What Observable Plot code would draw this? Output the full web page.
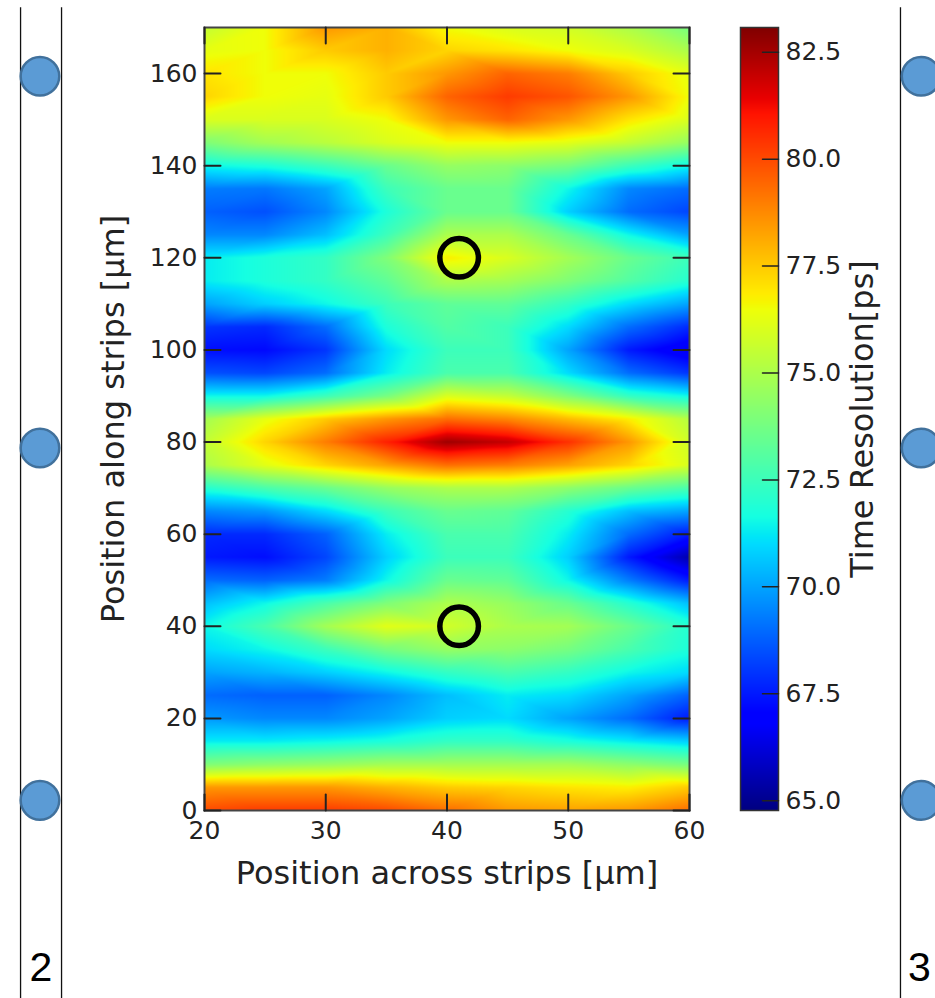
<!DOCTYPE html>
<html><head><meta charset="utf-8">
<script src="https://cdn.jsdelivr.net/npm/d3@7"></script>
<script src="https://cdn.jsdelivr.net/npm/@observablehq/plot@0.6"></script>
<style>
html,body{margin:0;padding:0;background:#fff;}
#wrap{position:relative;width:935px;height:998px;overflow:hidden;background:#fff;}
#wrap > svg{position:absolute;left:0;top:0;}
</style></head><body><div id="wrap"></div>
<script>
// Grid positions (µm)
const xPositions = [20, 25, 30, 35, 40, 45, 50, 55, 60];
const yPositions = [0,5,10,15,20,25,30,35,40,45,50,55,60,65,70,75,80,85,90,95,100,105,110,115,120,125,130,135,140,145,150,155,160,165,170];
// Time resolution [ps], one row per yPositions entry, columns = xPositions
const resolution = [
  [80.0, 80.3, 80.3, 80.0, 79.3, 78.5, 78.3, 78.5, 79.3], // 0
  [78.5, 78.5, 78.5, 78.0, 77.5, 77.3, 77.0, 76.8, 77.5], // 5
  [74.0, 74.3, 74.5, 74.8, 74.8, 74.8, 74.8, 74.3, 73.8], // 10
  [71.3, 71.3, 71.5, 71.8, 72.3, 72.3, 71.8, 71.3, 70.8], // 15
  [69.8, 69.5, 69.5, 70.0, 70.8, 71.0, 70.0, 69.0, 67.5], // 20
  [69.0, 68.8, 68.8, 69.5, 70.5, 71.3, 71.0, 70.0, 68.8], // 25
  [70.0, 70.3, 70.8, 71.5, 72.3, 72.8, 72.3, 71.5, 71.0], // 30
  [71.0, 71.5, 72.5, 73.8, 74.5, 74.3, 73.8, 72.8, 71.8], // 35
  [71.5, 72.8, 74.8, 76.2, 75.8, 75.0, 74.8, 73.5, 72.0], // 40
  [70.5, 71.5, 72.8, 74.0, 75.0, 74.5, 73.5, 72.0, 70.5], // 45
  [69.0, 68.8, 69.3, 71.5, 73.5, 73.3, 71.5, 69.3, 67.5], // 50
  [67.5, 67.3, 68.3, 70.8, 72.5, 72.5, 70.8, 67.5, 65.5], // 55
  [67.8, 67.8, 68.8, 71.3, 72.8, 72.8, 71.3, 69.0, 67.5], // 60
  [69.5, 69.8, 71.0, 72.5, 73.5, 73.3, 72.0, 70.5, 70.0], // 65
  [72.0, 72.8, 73.5, 74.5, 75.0, 75.0, 74.3, 73.5, 72.8], // 70
  [75.0, 76.2, 77.3, 78.3, 79.3, 79.0, 78.3, 77.3, 76.0], // 75
  [75.5, 77.3, 79.0, 80.8, 82.6, 82.0, 80.5, 78.5, 75.8], // 80
  [74.8, 76.3, 77.5, 78.5, 79.3, 78.8, 77.8, 76.8, 75.2], // 85
  [71.5, 71.5, 72.5, 73.8, 76.0, 75.5, 74.0, 72.3, 71.5], // 90
  [68.5, 68.3, 69.0, 71.3, 72.8, 72.8, 71.0, 69.0, 68.0], // 95
  [67.3, 67.2, 68.0, 71.0, 72.5, 72.5, 70.0, 67.5, 66.5], // 100
  [68.0, 67.8, 69.0, 71.8, 73.0, 72.5, 71.0, 69.0, 67.8], // 105
  [70.0, 70.8, 71.5, 72.5, 73.3, 73.3, 72.3, 71.0, 70.0], // 110
  [71.3, 71.8, 72.3, 73.3, 75.0, 74.8, 74.0, 73.0, 72.0], // 115
  [71.3, 71.8, 72.3, 74.0, 76.8, 76.0, 74.8, 73.5, 72.5], // 120
  [69.5, 69.5, 70.5, 72.5, 75.0, 75.0, 73.5, 71.5, 70.0], // 125
  [68.8, 68.5, 69.5, 71.8, 73.5, 73.5, 70.8, 69.0, 68.3], // 130
  [69.3, 69.2, 70.0, 72.5, 73.5, 73.5, 71.5, 69.5, 69.0], // 135
  [71.5, 71.8, 72.5, 73.5, 74.5, 74.3, 73.8, 72.5, 71.5], // 140
  [74.0, 74.8, 75.3, 76.0, 76.5, 76.5, 76.2, 75.5, 74.5], // 145
  [76.0, 76.0, 76.0, 76.5, 78.5, 79.5, 78.5, 77.0, 76.0], // 150
  [77.3, 76.5, 76.3, 77.5, 79.5, 80.3, 79.8, 78.5, 76.5], // 155
  [77.0, 76.5, 76.5, 77.5, 78.5, 79.5, 79.0, 77.5, 76.3], // 160
  [76.3, 76.5, 77.5, 78.0, 77.3, 77.0, 76.5, 76.0, 75.0], // 165
  [75.5, 76.5, 78.5, 78.0, 76.5, 76.0, 75.8, 75.0, 73.8]  // 170
];
const xTicks = [20, 30, 40, 50, 60];
const yTicks = [0, 20, 40, 60, 80, 100, 120, 140, 160];
const colorTicks = [65, 67.5, 70, 72.5, 75, 77.5, 80, 82.5];
const colorMin = 64.77, colorMax = 83.08;
// marked points (black rings)
const markedX = [41, 41];
const markedY = [120, 40];
// strip diagram overlay, in chart coordinates
const stripLines = [4.83, 8.21, 77.4];
const padX = [6.43, 79.1];
const padY = [159.4, 78.7, 2.2];
const stripLabels = ["2", "3"];
const stripLabelX = [6.5, 78.97];
const stripLabelY = -37;
const stripTop = 174.3, stripBottom = -42;

// jet colormap
const jetStops = [0, 0.11, 0.125, 0.34, 0.35, 0.375, 0.64, 0.65, 0.66, 0.89, 0.91, 1];
const jetColors = ["#000080","#0000ff","#0000ff","#00dbff","#00e6f7","#15ffe2","#efff08","#f7f500","#ffec00","#ff1300","#e80000","#800000"];
const colorScale = {
  type: "linear",
  domain: jetStops.map(f => colorMin + f * (colorMax - colorMin)),
  range: jetColors,
  clamp: true
};

const points = [];
yPositions.forEach((y, i) => xPositions.forEach((x, j) => points.push({x, y, v: resolution[i][j]})));
const marked = markedX.map((x, i) => ({x, y: markedY[i]}));
const pads = padX.flatMap(x => padY.map(y => ({x, y})));
const labels = stripLabels.map((t, i) => ({t, x: stripLabelX[i], y: stripLabelY}));

const tickShape = {draw(context, l) { context.moveTo(0, 0); context.lineTo(0, -l); }};
const font = "DejaVu Sans, Bitstream Vera Sans, sans-serif";
const ink = "#222";

const main = Plot.plot({
  width: 935, height: 998,
  marginLeft: 204, marginRight: 246, marginTop: 27, marginBottom: 188,
  style: {fontFamily: font, fontSize: "25px", background: "transparent", color: ink},
  x: {domain: [20, 60]},
  y: {domain: [0, 170]},
  color: colorScale,
  marks: [
    Plot.raster(points, {x: "x", y: "y", fill: "v", interpolate: "barycentric", x1: 20, x2: 60, y1: 0, y2: 170}),
    Plot.frame({stroke: "#444", strokeWidth: 2}),
    Plot.vector(yTicks, {y: d => d, frameAnchor: "left", rotate: 90, length: 16, anchor: "start", shape: tickShape, stroke: ink, strokeWidth: 2}),
    Plot.vector(yTicks, {y: d => d, frameAnchor: "right", rotate: -90, length: 16, anchor: "start", shape: tickShape, stroke: ink, strokeWidth: 2}),
    Plot.vector(xTicks, {x: d => d, frameAnchor: "bottom", rotate: 0, length: 16, anchor: "start", shape: tickShape, stroke: ink, strokeWidth: 2}),
    Plot.vector(xTicks, {x: d => d, frameAnchor: "top", rotate: 180, length: 16, anchor: "start", shape: tickShape, stroke: ink, strokeWidth: 2}),
    Plot.axisX(xTicks, {anchor: "bottom", tickSize: 0, tickPadding: 11, tickFormat: d => String(d), label: null, fill: ink}),
    Plot.axisY(yTicks, {anchor: "left", tickSize: 0, tickPadding: 7, tickFormat: d => String(d), label: null, fill: ink}),
    Plot.text(["Position across strips [µm]"], {text: d => d, frameAnchor: "bottom", textAnchor: "middle", dy: 63, lineAnchor: "middle", fontSize: 32, fill: ink}),
    Plot.text(["Position along strips [µm]"], {text: d => d, frameAnchor: "left", textAnchor: "middle", dx: -91, rotate: -90, lineAnchor: "middle", fontSize: 32, fill: ink}),
    Plot.dot(marked, {x: "x", y: "y", r: 19.3, stroke: "black", strokeWidth: 5.5, fill: "none"}),
    Plot.ruleX(stripLines, {x: d => d, y1: stripBottom, y2: stripTop, stroke: "#111", strokeWidth: 1.3}),
    Plot.dot(pads, {x: "x", y: "y", r: 19.3, fill: "#5b9bd5", stroke: "#41719c", strokeWidth: 2.5}),
    Plot.text(labels, {x: "x", y: "y", text: "t", lineAnchor: "bottom", fontSize: 41, fontFamily: "Liberation Sans, Arial, sans-serif", fill: "#000"})
  ]
});

const bar = Plot.plot({
  width: 935, height: 998,
  marginLeft: 740, marginRight: 157, marginTop: 27, marginBottom: 188,
  style: {fontFamily: font, fontSize: "25px", background: "transparent", color: ink},
  x: {domain: [0, 1], axis: null},
  y: {domain: [colorMin, colorMax]},
  color: colorScale,
  marks: [
    Plot.raster({fill: (x, y) => y, x1: 0, x2: 1, y1: colorMin, y2: colorMax}),
    Plot.frame({stroke: "#333", strokeWidth: 1.5}),
    Plot.vector(colorTicks, {y: d => d, frameAnchor: "right", rotate: -90, length: 16, anchor: "start", shape: tickShape, stroke: ink, strokeWidth: 1.5}),
    Plot.axisY(colorTicks, {anchor: "right", tickSize: 0, tickPadding: 7, tickFormat: d => d.toFixed(1), label: null, fill: ink}),
    Plot.text(["Time Resolution[ps]"], {text: d => d, frameAnchor: "right", textAnchor: "middle", dx: 84, rotate: -90, lineAnchor: "middle", fontSize: 32, fill: ink})
  ]
});

const wrap = document.getElementById("wrap");
wrap.appendChild(main);
wrap.appendChild(bar);
</script>
</body></html>
